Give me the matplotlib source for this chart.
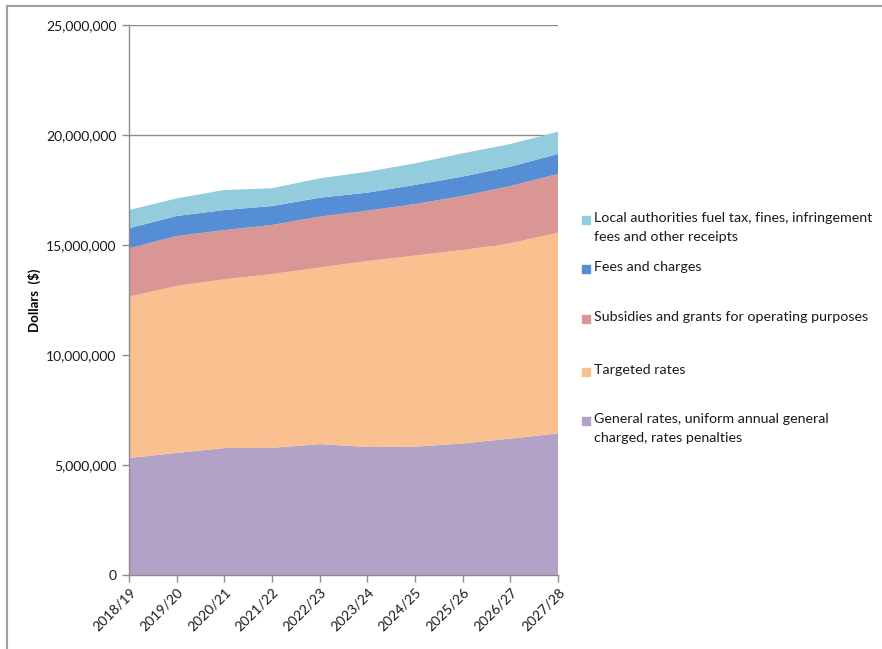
import matplotlib
matplotlib.use("Agg")
import matplotlib.pyplot as plt
from matplotlib.lines import Line2D
from matplotlib.patches import Rectangle
from matplotlib.ticker import FuncFormatter, MultipleLocator

plt.rcParams["font.family"] = ["Lato", "DejaVu Sans"]

years = ["2018/19", "2019/20", "2020/21", "2021/22", "2022/23",
         "2023/24", "2024/25", "2025/26", "2026/27", "2027/28"]

general_rates = [5.32e6, 5.55e6, 5.77e6, 5.78e6, 5.95e6, 5.82e6, 5.83e6, 5.98e6, 6.20e6, 6.44e6]
targeted_rates = [7.33e6, 7.59e6, 7.67e6, 7.90e6, 8.03e6, 8.45e6, 8.69e6, 8.79e6, 8.88e6, 9.12e6]
subsidies = [2.20e6, 2.27e6, 2.24e6, 2.23e6, 2.31e6, 2.29e6, 2.34e6, 2.46e6, 2.60e6, 2.67e6]
fees = [0.91e6, 0.91e6, 0.91e6, 0.86e6, 0.86e6, 0.82e6, 0.87e6, 0.88e6, 0.88e6, 0.91e6]
other_receipts = [0.83e6, 0.80e6, 0.91e6, 0.81e6, 0.88e6, 0.95e6, 0.98e6, 1.06e6, 1.03e6, 1.01e6]

series_labels = [
    "General rates, uniform annual general\ncharged, rates penalties",
    "Targeted rates",
    "Subsidies and grants for operating purposes",
    "Fees and charges",
    "Local authorities fuel tax, fines, infringement\nfees and other receipts",
]
colors = ["#B3A2C7", "#FAC090", "#D99694", "#558ED5", "#93CDDD"]

fig = plt.figure(figsize=(8.82, 6.49), dpi=100)
ax = fig.add_axes([129 / 882, 1 - 575 / 649, 429 / 882, 550 / 649])

x = list(range(len(years)))
ax.stackplot(x, general_rates, targeted_rates, subsidies, fees, other_receipts,
             colors=colors, linewidth=0, zorder=2)

ax.set_xlim(0, len(years) - 1)
ax.set_ylim(0, 25e6)
ax.yaxis.set_major_locator(MultipleLocator(5e6))
ax.yaxis.set_major_formatter(FuncFormatter(lambda v, p: f"{int(v):,}"))
ax.grid(axis="y", color="#8c8c8c", linewidth=1.0, zorder=0)
ax.set_axisbelow(True)

ax.set_xticks(x)
ax.set_xticklabels(years, rotation=45, ha="right", va="top", rotation_mode="anchor")
ax.tick_params(axis="both", colors="#8c8c8c", labelcolor="#1a1a1a",
               labelsize=10, length=5, width=1)
ax.tick_params(axis="x", pad=3)
ax.tick_params(axis="y", pad=4)

for side in ("top", "right"):
    ax.spines[side].set_visible(False)
for side in ("left", "bottom"):
    ax.spines[side].set_color("#8c8c8c")
    ax.spines[side].set_linewidth(1.0)

ax.set_ylabel("Dollars  ($)", fontsize=9.5, fontweight="bold")
ax.yaxis.set_label_coords(-88 / 429, 0.5)

# Legend entries, top to bottom in reverse stacking order
legend_rows = [220, 269, 319, 372, 421]
for label, color, ypix in zip(series_labels[::-1], colors[::-1], legend_rows):
    fy = 1 - ypix / 649
    fig.patches.append(Rectangle((582 / 882, fy - 4 / 649), 8 / 882, 8 / 649,
                                 transform=fig.transFigure, color=color))
    fig.text(594 / 882, fy + 8 / 649, label, fontsize=10.3, color="#1a1a1a",
             va="top", ha="left", linespacing=1.7)

# Frame lines along the top and left edges of the figure
fig.add_artist(Line2D([7 / 882, 1], [1 - 6 / 649, 1 - 6 / 649],
                      transform=fig.transFigure, color="#a0a0a0", linewidth=1.5))
fig.add_artist(Line2D([7 / 882, 7 / 882], [0, 1 - 6 / 649],
                      transform=fig.transFigure, color="#a0a0a0", linewidth=1.5))

fig.savefig("out.png", dpi=100)
